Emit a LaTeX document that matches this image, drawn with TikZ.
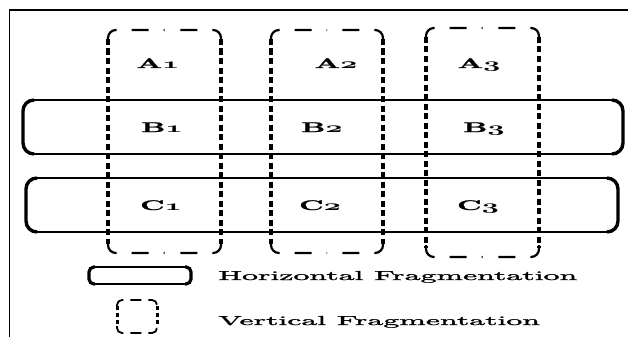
\documentclass[tikz,border=0pt]{standalone}
\usepackage{graphicx}
\usepackage{fontspec}
\setmainfont{Latin Modern Roman}
\newfontface\labfont{lmroman10-bold.otf}[FakeBold=1.2]
\newfontface\lgdfont{lmroman10-regular.otf}[FakeBold=1.3]
\newcommand\osn[1]{{\usefont{OML}{cmm}{b}{it}#1}}
\newcommand\lbl[2]{\scalebox{2.1}[1]{\labfont #1\osn{#2}}}
\newcommand\lgd[1]{\scalebox{2.45}[1]{\lgdfont #1}}
\begin{document}
\begin{tikzpicture}[x=1pt,y=-1pt,
  frameline/.style={line width=1.6pt},
  hbox/.style={line width=1.6pt, rounded corners=11pt},
  hend/.style={line width=3.4pt, rounded corners=11pt},
  vside/.style={line width=3.8pt, dash pattern=on 6pt off 3.5pt},
  vtop/.style={line width=2.2pt, dash pattern=on 17pt off 15pt, rounded corners=8pt},
  lab/.style={anchor=base, inner sep=0pt, font=\fontsize{14}{14}\selectfont},
  lgdtext/.style={anchor=base west, inner sep=0pt, font=\fontsize{13}{13}\selectfont}
]
\useasboundingbox (0,0) rectangle (628,337);
% frame
\draw[frameline] (628,10) -- (9.5,10) -- (9.5,337);
% horizontal fragments
\foreach \L/\R/\T/\B in {23/623/100/154, 26/618/178/232}{
  \draw[hbox] (\L,\T) rectangle (\R,\B);
  \draw[hend] (\L+11,\T) -- (\L,\T) -- (\L,\B) -- (\L+11,\B);
  \draw[hend] (\R-11,\T) -- (\R,\T) -- (\R,\B) -- (\R-11,\B);
}
% vertical fragments
\foreach \L/\R/\T/\B in {108/221/30/253, 271/383/30/253, 426/539/28/257}{
  \draw[vtop] (\L,\T+12) -- (\L,\T) -- ({(\L+\R)/2},\T);
  \draw[vtop] (\R,\T+12) -- (\R,\T) -- ({(\L+\R)/2+1},\T);
  \draw[vtop] (\L,\B-12) -- (\L,\B) -- ({(\L+\R)/2},\B);
  \draw[vtop] (\R,\B-12) -- (\R,\B) -- ({(\L+\R)/2+1},\B);
  \draw[vside] (\L,\T+9) -- (\L,\B-9);
  \draw[vside] (\R,\T+9) -- (\R,\B-9);
}
% labels
\node[lab] (a1) at (158,68) {\lbl{A}{1}};
\node[lab] (a2) at (336,68) {\lbl{A}{2}};
\node[lab] (a3) at (479,68) {\lbl{A}{3}};
\node[lab] (b1) at (162,132) {\lbl{B}{1}};
\node[lab] (b2) at (322,132) {\lbl{B}{2}};
\node[lab] (b3) at (484,132) {\lbl{B}{3}};
\node[lab] (c1) at (161,210) {\lbl{C}{1}};
\node[lab] (c2) at (320,210) {\lbl{C}{2}};
\node[lab] (c3) at (478,210) {\lbl{C}{3}};
% legend
\draw[line width=1.6pt, rounded corners=5pt] (89,267) rectangle (191,284);
\draw[line width=3.2pt, rounded corners=5pt] (95,267) -- (89,267) -- (89,284) -- (95,284);
\draw[line width=3.2pt, rounded corners=5pt] (185,267) -- (191,267) -- (191,284) -- (185,284);
\draw[line width=1.8pt, dash pattern=on 11pt off 7pt, rounded corners=5pt] (117,307) -- (117,300) -- (157,300) -- (157,307);
\draw[line width=1.8pt, dash pattern=on 11pt off 7pt, rounded corners=5pt] (117,326) -- (117,333) -- (157,333) -- (157,326);
\draw[line width=3pt, dash pattern=on 4pt off 3pt] (117,306) -- (117,327);
\draw[line width=3pt, dash pattern=on 4pt off 3pt] (157,306) -- (157,327);
\node[lgdtext] (ht) at (218,280) {\lgd{Horizontal Fragmentation}};
\node[lgdtext] (vt) at (218,325) {\lgd{Vertical Fragmentation}};
\end{tikzpicture}
\end{document}
